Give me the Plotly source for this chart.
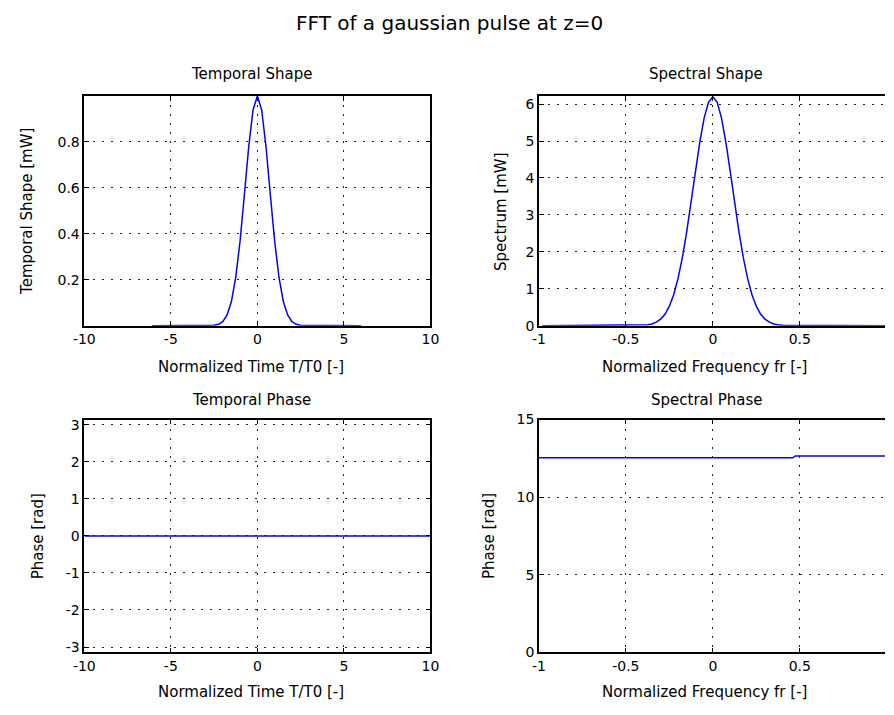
import plotly.graph_objects as go

# ---- data ----
t_shape = [-6.1, -2.5, -2.25, -2.0, -1.75, -1.5, -1.25, -1.0, -0.75, -0.5, -0.25, 0.0,
           0.25, 0.5, 0.75, 1.0, 1.25, 1.5, 1.75, 2.0, 2.25, 2.5, 6.0]
p_shape = [0.0, 0.002, 0.006, 0.018, 0.047, 0.105, 0.210, 0.368, 0.570, 0.779, 0.939, 1.000,
           0.939, 0.779, 0.570, 0.368, 0.210, 0.105, 0.047, 0.018, 0.006, 0.002, 0.0]

f_spec = [-0.98, -0.4, -0.375, -0.35, -0.325, -0.3, -0.275, -0.25, -0.225, -0.2, -0.175,
          -0.15, -0.125, -0.1, -0.075, -0.05, -0.025, 0.0, 0.025, 0.05, 0.075, 0.1, 0.125,
          0.15, 0.175, 0.2, 0.225, 0.25, 0.275, 0.3, 0.325, 0.35, 0.375, 0.4, 1.0]
s_spec = [0.0, 0.011, 0.024, 0.049, 0.096, 0.18, 0.31, 0.53, 0.84, 1.28, 1.85,
          2.55, 3.35, 4.18, 4.97, 5.62, 6.05, 6.2, 6.05, 5.62, 4.97, 4.18, 3.35,
          2.55, 1.85, 1.28, 0.84, 0.53, 0.31, 0.18, 0.096, 0.049, 0.024, 0.011, 0.0]

t_phase = [-10, 10]
ph_t = [0.0, 0.0]

f_phase = [-1.0, 0.46, 0.475, 1.0]
ph_f = [12.54, 12.54, 12.66, 12.66]

time_ticks = [-10, -5, 0, 5, 10]
time_ticklabels = ["-10", "-5", "0", "5", "10"]
freq_ticks = [-1, -0.5, 0, 0.5, 1]
freq_ticklabels = ["-1", "-0.5", "0", "0.5", "1"]
shape_ticks = [0.2, 0.4, 0.6, 0.8]
spec_ticks = [0, 1, 2, 3, 4, 5, 6]
tphase_ticks = [-3, -2, -1, 0, 1, 2, 3]
tphase_ticklabels = ["-3", "-2", "-1", "0", "1", "2", "3"]
fphase_ticks = [0, 5, 10, 15]

W, H = 894, 715
FONT = "DejaVu Sans"
BLUE = "#0000ff"

def px(x):
    return x / W

def py(y):
    return 1 - y / H

fig = go.Figure()
fig.add_trace(go.Scatter(x=t_shape, y=p_shape, mode="lines", line=dict(color=BLUE, width=1.5), xaxis="x", yaxis="y"))
fig.add_trace(go.Scatter(x=f_spec, y=s_spec, mode="lines", line=dict(color=BLUE, width=1.5), xaxis="x2", yaxis="y2"))
fig.add_trace(go.Scatter(x=t_phase, y=ph_t, mode="lines", line=dict(color=BLUE, width=1.5), xaxis="x3", yaxis="y3"))
fig.add_trace(go.Scatter(x=f_phase, y=ph_f, mode="lines", line=dict(color=BLUE, width=1.5), xaxis="x4", yaxis="y4"))

L = (px(75), px(429))
R = (px(540), 1.0)
T = (py(325), py(90))
B = (py(659), py(421))

common = dict(showline=True, linecolor="black", linewidth=1.5, ticks="inside", ticklen=5,
              tickcolor="black", showgrid=True, gridcolor="#222", gridwidth=1, griddash="2px,7px",
              zeroline=False, tickfont=dict(family=FONT, size=14, color="black"))

fig.update_layout(
    width=W, height=H, margin=dict(l=0, r=0, t=0, b=0),
    paper_bgcolor="white", plot_bgcolor="white", showlegend=False,
    xaxis=dict(domain=L, anchor="y", range=[-10, 10], tickvals=time_ticks, ticktext=time_ticklabels, mirror="ticks", **common),
    yaxis=dict(domain=T, anchor="x", range=[0, 1.0], tickvals=shape_ticks, mirror="ticks", **common),
    xaxis2=dict(domain=R, anchor="y2", range=[-1, 0.99], tickvals=freq_ticks, ticktext=freq_ticklabels, mirror="ticks", **common),
    yaxis2=dict(domain=T, anchor="x2", range=[0, 6.22], tickvals=spec_ticks, mirror=False, **common),
    xaxis3=dict(domain=L, anchor="y3", range=[-10, 10], tickvals=time_ticks, ticktext=time_ticklabels, mirror="ticks", **common),
    yaxis3=dict(domain=B, anchor="x3", range=[-3.1416, 3.1416], tickvals=tphase_ticks, ticktext=tphase_ticklabels, mirror="ticks", **common),
    xaxis4=dict(domain=R, anchor="y4", range=[-1, 0.99], tickvals=freq_ticks, ticktext=freq_ticklabels, mirror="ticks", **common),
    yaxis4=dict(domain=B, anchor="x4", range=[0, 15], tickvals=fphase_ticks, mirror=False, **common),
)

def ann(text, x, y, size=15, angle=0):
    fig.add_annotation(text=text, x=px(x), y=py(y), xref="paper", yref="paper",
                       xanchor="center", yanchor="middle", showarrow=False, textangle=angle,
                       font=dict(family=FONT, size=size, color="black"))

ann("FFT of a gaussian pulse at z=0", 449, 15, size=20)
ann("Temporal Shape", 246, 68)
ann("Spectral Shape", 711, 68)
ann("Temporal Phase", 246, 401)
ann("Spectral Phase", 711, 401)
ann("Normalized Time T/T0 [-]", 245, 367)
ann("Normalized Frequency fr [-]", 709, 367)
ann("Normalized Time T/T0 [-]", 245, 700)
ann("Normalized Frequency fr [-]", 709, 700)
ann("Temporal Shape [mW]", 17, 208, angle=-90)
ann("Spectrum [mW]", 502, 208, angle=-90)
ann("Phase [rad]", 28, 540, angle=-90)
ann("Phase [rad]", 489, 540, angle=-90)

fig.write_html("out.html", config={"displayModeBar": False},
               post_script="document.body.style.margin='0';document.body.style.overflow='hidden';")
